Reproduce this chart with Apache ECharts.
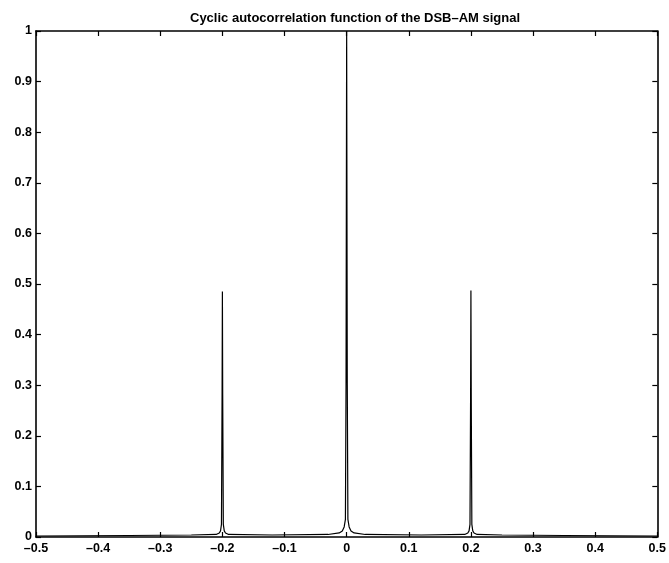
<!DOCTYPE html>
<html>
<head>
<meta charset="utf-8">
<script src="https://cdn.jsdelivr.net/npm/echarts@6/dist/echarts.min.js"></script>
<style>html,body{margin:0;padding:0;background:#fff;}#c{width:669px;height:563px;}</style>
</head>
<body>
<div id="c"></div>
<script>
const titleText = 'Cyclic autocorrelation function of the DSB\u2013AM signal';
const xTicks = [-0.5, -0.4, -0.3, -0.2, -0.1, 0, 0.1, 0.2, 0.3, 0.4, 0.5];
const yTicks = [0, 0.1, 0.2, 0.3, 0.4, 0.5, 0.6, 0.7, 0.8, 0.9, 1];
const freq = [-0.5, -0.35, -0.25, -0.21, -0.205, -0.203, -0.2015, -0.2005, -0.2, -0.1995, -0.1985, -0.197, -0.195, -0.19, -0.12, -0.03,
  -0.012, -0.007, -0.004, -0.002, -0.001, 0, 0.001, 0.002, 0.004, 0.007, 0.012,
  0.03, 0.12, 0.19, 0.195, 0.197, 0.1985, 0.1995, 0.2, 0.2005, 0.2015, 0.203, 0.205, 0.21, 0.25, 0.35, 0.5];
const acf = [0.002, 0.003, 0.004, 0.005, 0.008, 0.012, 0.025, 0.28, 0.485, 0.28, 0.025, 0.012, 0.008, 0.005, 0.004, 0.005,
  0.008, 0.012, 0.02, 0.035, 0.3, 1.0, 0.3, 0.035, 0.02, 0.012, 0.008,
  0.005, 0.004, 0.005, 0.008, 0.012, 0.025, 0.28, 0.487, 0.28, 0.025, 0.012, 0.008, 0.005, 0.004, 0.003, 0.002];

const fmt = v => {
  const r = Math.round(v * 10) / 10;
  if (r === 0) return '0';
  return (r < 0 ? '\u2013' : '') + Math.abs(r).toString();
};
const font = 'Liberation Sans, Arial, sans-serif';
const axisCommon = {
  axisLine: {show: true, onZero: false, lineStyle: {color: '#000', width: 1.6}},
  axisTick: {show: true, inside: true, length: 5, lineStyle: {color: '#000', width: 1.2}},
  splitLine: {show: false}
};
const chart = echarts.init(document.getElementById('c'));
chart.setOption({
  backgroundColor: '#fff',
  animation: false,
  title: {text: titleText, left: 185, top: 7,
    textStyle: {fontFamily: font, fontSize: 13, fontWeight: 'bold', color: '#000'}},
  grid: {left: 36, right: 8, top: 31, bottom: 26},
  xAxis: [
    Object.assign({type: 'value', position: 'bottom', min: xTicks[0], max: xTicks[xTicks.length-1], interval: 0.1,
      axisLabel: {formatter: fmt, color: '#000', fontFamily: font, fontSize: 12.5, fontWeight: 'bold', margin: 5}}, axisCommon),
    Object.assign({type: 'value', position: 'top', min: xTicks[0], max: xTicks[xTicks.length-1], interval: 0.1,
      axisLabel: {show: false}}, axisCommon)
  ],
  yAxis: [
    Object.assign({type: 'value', position: 'left', min: yTicks[0], max: yTicks[yTicks.length-1], interval: 0.1,
      axisLabel: {formatter: fmt, color: '#000', fontFamily: font, fontSize: 12.5, fontWeight: 'bold', margin: 4}}, axisCommon),
    Object.assign({type: 'value', position: 'right', min: yTicks[0], max: yTicks[yTicks.length-1], interval: 0.1,
      axisLabel: {show: false}}, axisCommon)
  ],
  series: [{
    type: 'line',
    xAxisIndex: 0, yAxisIndex: 0,
    data: freq.map((f, i) => [f, acf[i]]),
    showSymbol: false,
    lineStyle: {color: '#000', width: 1.2},
    itemStyle: {color: '#000'}
  }]
});
</script>
</body>
</html>
